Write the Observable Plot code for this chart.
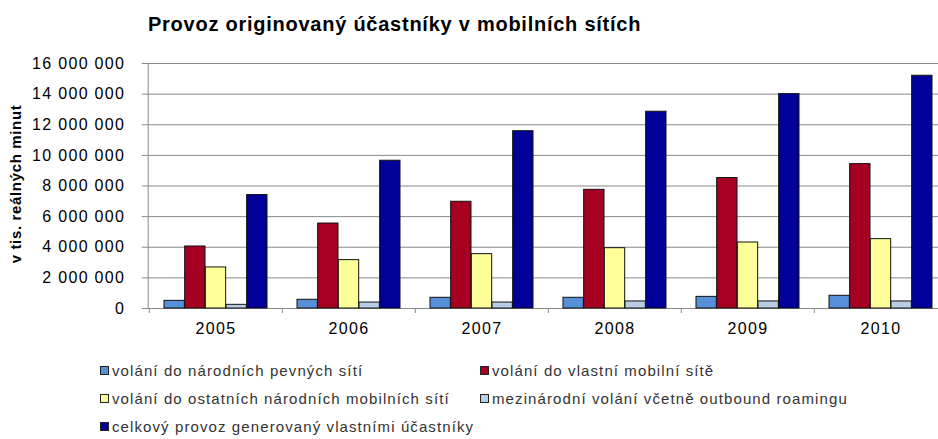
<!DOCTYPE html>
<html><head><meta charset="utf-8">
<script src="https://cdn.jsdelivr.net/npm/d3@7"></script>
<script src="https://cdn.jsdelivr.net/npm/@observablehq/plot@0.6"></script>
<style>
body{margin:0;background:#fff;}
#wrap{position:relative;width:938px;height:439px;overflow:hidden;font-family:"Liberation Sans",Arial,sans-serif;}
#title{position:absolute;left:148px;top:14px;font-size:20px;line-height:20px;font-weight:bold;letter-spacing:0.75px;white-space:nowrap;color:#000;}
#ylabel{position:absolute;left:16px;top:184px;width:0;height:0;}
#ylabel span{position:absolute;left:0;top:0;transform:translate(-50%,-50%) rotate(-90deg);white-space:nowrap;font-size:15px;line-height:16px;font-weight:bold;letter-spacing:0.65px;color:#000;}
#chart{position:absolute;left:0;top:0;}
#chart g[aria-label="y-axis tick label"] text{letter-spacing:1.3px;}
#chart g[aria-label="x-axis tick label"] text{letter-spacing:1.3px;}
.leg{position:absolute;height:16px;display:flex;align-items:center;white-space:nowrap;font-size:15px;letter-spacing:1.1px;color:#333;}
.leg .sw{width:7px;height:7px;border:1px solid #222;margin-right:3px;flex:none;}
</style></head>
<body>
<div id="wrap">
  <div id="chart"></div>
  <div id="title">Provoz originovaný účastníky v mobilních sítích</div>
  <div id="ylabel"><span></span></div>
  <div id="legend"></div>
</div>
<script>
const years = ["2005", "2006", "2007", "2008", "2009", "2010"];
const seriesNames = [
  "volání do národních pevných sítí",
  "volání do vlastní mobilní sítě",
  "volání do ostatních národních mobilních sítí",
  "mezinárodní volání včetně outbound roamingu",
  "celkový provoz generovaný vlastními účastníky"
];
const narodniPevne   = [500000, 570000, 700000, 700000, 760000, 830000];
const vlastniMobilni = [4050000, 5550000, 6970000, 7750000, 8520000, 9430000];
const ostatniMobilni = [2680000, 3160000, 3550000, 3940000, 4310000, 4530000];
const mezinarodni    = [240000, 390000, 390000, 460000, 460000, 460000];
const celkovy        = [7410000, 9650000, 11580000, 12850000, 14000000, 15200000];
const yTicks = [0, 2000000, 4000000, 6000000, 8000000, 10000000, 12000000, 14000000, 16000000];
const colors = ["#5690D8", "#A50021", "#FFFF99", "#B9CDE5", "#000099"];
const yLabel = "v tis. reálných minut";

const seriesValues = [narodniPevne, vlastniMobilni, ostatniMobilni, mezinarodni, celkovy];

const W = 938, H = 439;
const marginLeft = 147.7, marginRight = -9.7, marginTop = 63, marginBottom = 131;
const band = (W - marginRight - marginLeft) / years.length;
const outer = 15, barW = (band - 2 * outer) / seriesNames.length;

const fmt = d => d3.format(",")(d).replace(/,/g, " ");
const fontFam = '"Liberation Sans", Arial, sans-serif';

const barMarks = seriesValues.map((vals, i) =>
  Plot.barY(years.map((y, j) => ({year: y, value: vals[j]})), {
    x: "year", y: "value",
    fill: colors[i], stroke: "#111", strokeWidth: 1,
    insetLeft: outer + i * barW,
    insetRight: band - outer - (i + 1) * barW
  })
);

const chart = Plot.plot({
  width: W, height: H,
  marginLeft, marginRight, marginTop, marginBottom,
  style: {fontFamily: fontFam, background: "transparent", overflow: "hidden"},
  x: {type: "band", domain: years, padding: 0, axis: null},
  y: {domain: [0, 16000000], axis: null},
  marks: [
    Plot.gridY(yTicks, {stroke: "#8a8a8a", strokeOpacity: 1, strokeWidth: 1}),
    Plot.axisY(yTicks, {tickSize: 6, tickPadding: 17, tickFormat: fmt, stroke: "#8a8a8a", fontSize: 16, label: null, fill: "#000"}),
    Plot.frame({anchor: "left", stroke: "#8a8a8a"}),
    ...barMarks,
    Plot.axisX(years, {tickSize: 5, dx: -band / 2, tickFormat: () => "", stroke: "#8a8a8a", label: null}),
    Plot.axisX(years, {tickSize: 0, tickPadding: 14, fontSize: 16, fill: "#000", label: null})
  ]
});
document.getElementById("chart").appendChild(chart);
document.querySelector("#ylabel span").textContent = yLabel;

const legendPos = [
  {x: 100, y: 370}, {x: 480, y: 370},
  {x: 100, y: 398}, {x: 480, y: 398},
  {x: 100, y: 426}
];
const legend = document.getElementById("legend");
seriesNames.forEach((name, i) => {
  const item = document.createElement("div");
  item.className = "leg";
  item.style.left = legendPos[i].x + "px";
  item.style.top = (legendPos[i].y - 8) + "px";
  const sw = document.createElement("span");
  sw.className = "sw";
  sw.style.background = colors[i];
  const t = document.createElement("span");
  t.textContent = name;
  item.appendChild(sw);
  item.appendChild(t);
  legend.appendChild(item);
});
</script>
</body></html>
